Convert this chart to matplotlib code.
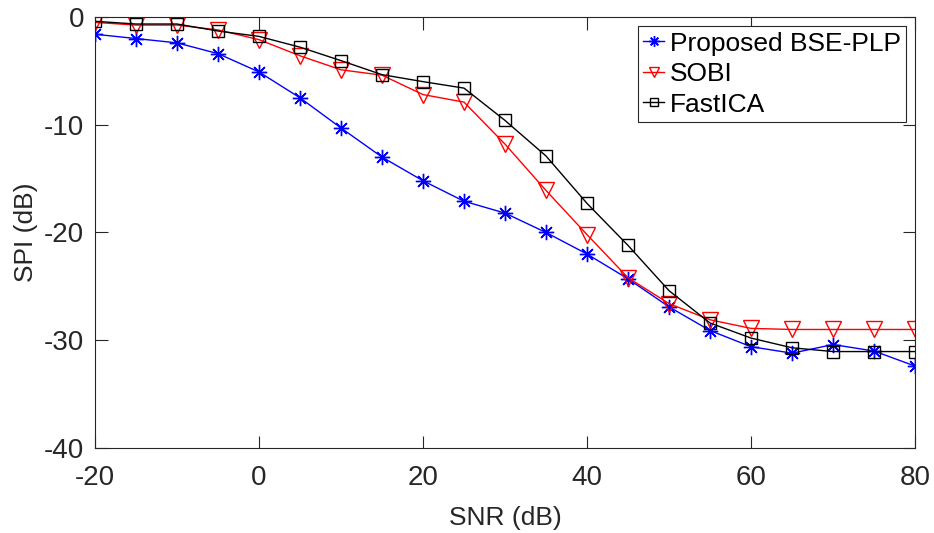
import matplotlib
matplotlib.use('Agg')
import matplotlib.pyplot as plt

plt.rcParams['font.family'] = ['Liberation Sans', 'DejaVu Sans']
plt.rcParams['axes.unicode_minus'] = False

snr = [-20, -15, -10, -5, 0, 5, 10, 15, 20, 25, 30, 35, 40, 45, 50, 55, 60, 65, 70, 75, 80]

spi_bse_plp = [-1.6, -2.0, -2.4, -3.4, -5.1, -7.5, -10.3, -13.0, -15.2, -17.1, -18.2,
               -20.0, -22.0, -24.3, -26.9, -29.1, -30.6, -31.2, -30.4, -31.0, -32.4]
spi_sobi = [-0.5, -0.75, -0.75, -1.2, -2.1, -3.6, -4.9, -5.4, -7.2, -7.9, -11.8,
            -16.1, -20.2, -24.2, -26.6, -28.1, -28.9, -29.0, -29.0, -29.0, -29.0]
spi_fastica = [-0.4, -0.65, -0.65, -1.3, -1.8, -2.8, -4.05, -5.35, -6.0, -6.6, -9.6,
               -12.9, -17.3, -21.2, -25.4, -28.4, -29.8, -30.7, -31.05, -31.05, -31.05]

fig = plt.figure(figsize=(9.34, 5.33), dpi=100)
ax = fig.add_axes([0.1017, 0.1595, 0.878, 0.8086])

# asterisk marker like matlab '*'
ax.plot(snr, spi_bse_plp, color='blue', lw=1.0, marker=(8, 2, 0), ms=11, mew=1.0,
        label='Proposed BSE-PLP')
ax.plot(snr, spi_sobi, color='red', lw=1.0, marker='v', ms=11, mfc='none', mew=1.0,
        label='SOBI')
ax.plot(snr, spi_fastica, color='black', lw=1.0, marker='s', ms=8, mfc='none', mew=1.0,
        label='FastICA')

ax.set_xlim(-20, 80)
ax.set_ylim(-40, 0)
ax.set_xticks([-20, 0, 20, 40, 60, 80])
ax.set_yticks([-40, -30, -20, -10, 0])
ax.set_xlabel('SNR (dB)', fontsize=19, color='#262626', labelpad=11)
ax.set_ylabel('SPI (dB)', fontsize=19, color='#262626', labelpad=4)
ax.tick_params(direction='in', length=9, width=0.8, top=True, right=True,
               labelsize=20, colors='#262626')
ax.tick_params(axis='x', pad=12)
ax.tick_params(axis='y', pad=8)
for s in ax.spines.values():
    s.set_color('#262626')
    s.set_linewidth(0.8)

leg = ax.legend(loc='upper right', fontsize=19, handlelength=0.8, handletextpad=0.2,
                borderpad=0.2, labelspacing=0.25, borderaxespad=0.35, markerscale=0.7,
                fancybox=False, framealpha=1, edgecolor='#262626')
leg.get_frame().set_linewidth(0.8)

plt.savefig('out.png', dpi=100)
